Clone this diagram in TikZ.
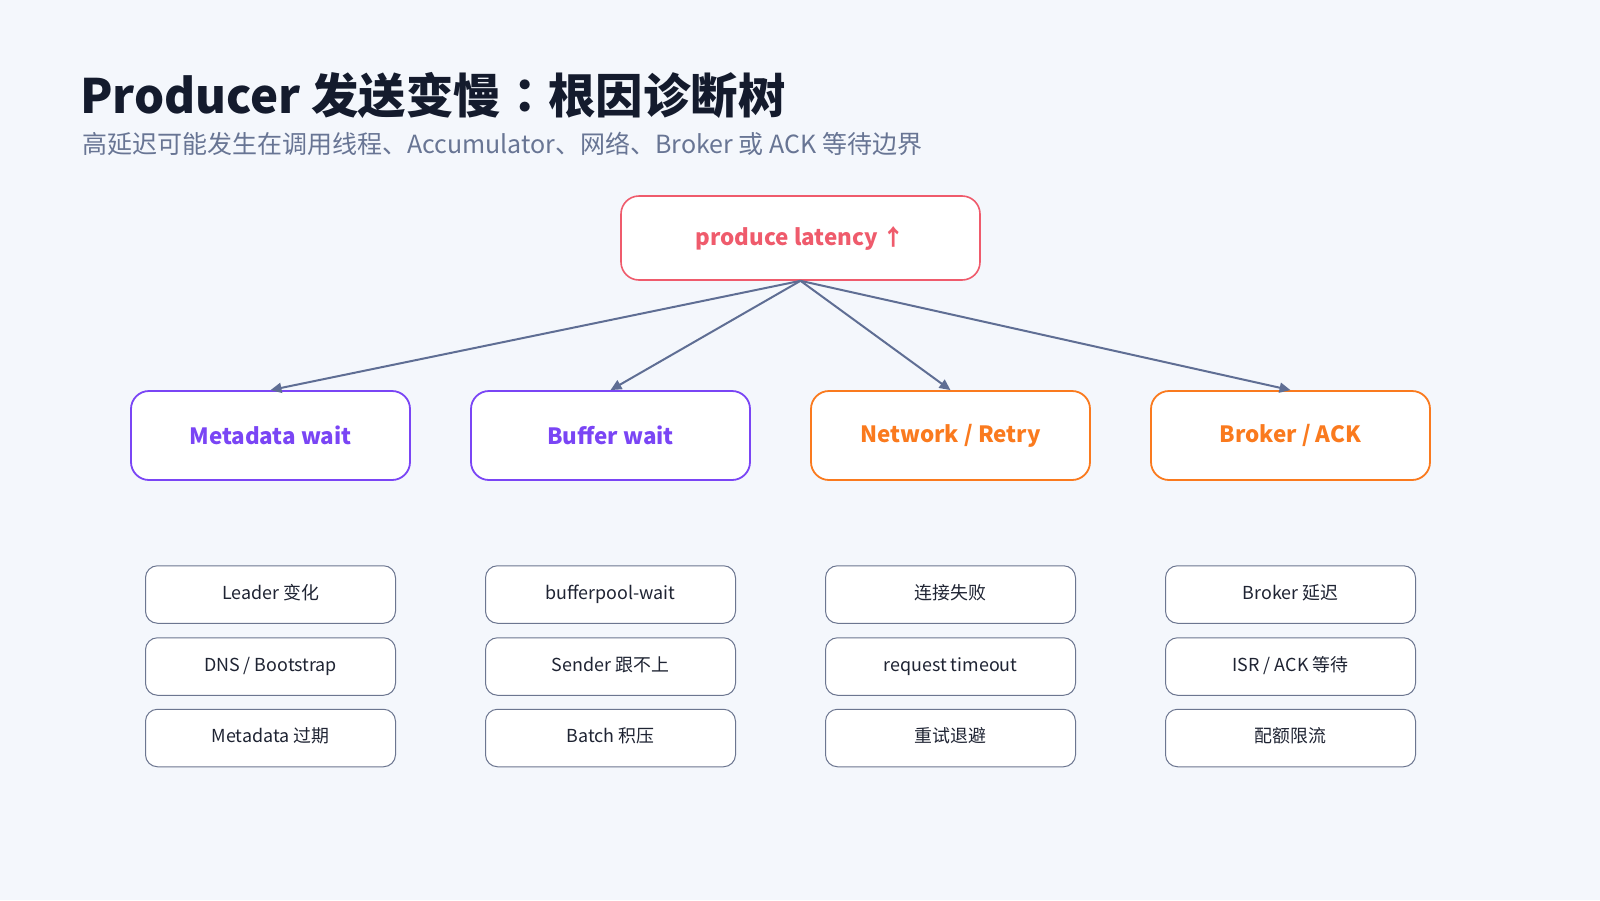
\documentclass[tikz,border=0pt]{standalone}
\usepackage{fontspec}
\setmainfont{Noto Sans CJK SC}
\newfontfamily\jpfont{Noto Sans CJK JP}
\usetikzlibrary{arrows.meta}
\definecolor{bg}{HTML}{F4F7FC}
\definecolor{titlec}{HTML}{141B2D}
\definecolor{subc}{HTML}{687594}
\definecolor{rootc}{HTML}{EF5B6C}
\definecolor{purc}{HTML}{7A45F5}
\definecolor{orc}{HTML}{FA7A1E}
\definecolor{arrc}{HTML}{5F6E94}
\definecolor{leafb}{HTML}{6C7690}
\definecolor{leaft}{HTML}{1F2433}
\tikzset{
  rootbox/.style={draw=rootc, line width=1.6pt, fill=white, rounded corners=18pt,
    minimum width=359pt, minimum height=84pt, inner sep=0pt, text=rootc,
    font=\fontsize{22.4}{27}\selectfont\bfseries},
  midbox/.style={line width=1.8pt, fill=white, rounded corners=18pt,
    minimum width=279pt, minimum height=89pt, inner sep=0pt,
    font=\fontsize{22.4}{27}\selectfont\bfseries},
  purbox/.style={midbox, draw=purc, text=purc},
  orbox/.style={midbox, draw=orc, text=orc},
  leafbox/.style={draw=leafb, line width=1pt, fill=white, rounded corners=12pt,
    minimum width=250pt, minimum height=57.5pt, inner sep=0pt, text=leaft,
    text height=11pt, text depth=1.5pt,
    font=\fontsize{17.9}{22}\selectfont},
  conn/.style={draw=arrc, line width=2pt, -{Triangle[length=11pt,width=10pt]}}
}
\begin{document}
\begin{tikzpicture}[x=1pt,y=-1pt]
\fill[bg] (0,0) rectangle (1600,900);
\useasboundingbox (0,0) rectangle (1600,900);
\node[anchor=base west, text=titlec, inner sep=0pt, font=\fontsize{47.4}{56}\selectfont\bfseries] (title) at (80,113) {Producer 发送变慢{\jpfont ：}根因诊断树};
\node[anchor=base west, text=subc, inner sep=0pt, font=\fontsize{25}{29}\selectfont] (sub) at (82,153) {高延迟可能发生在调用线程、Accumulator、网络、Broker 或 ACK 等待边界};
\node[rootbox] (root) at (800.5,238) {produce latency ↑};
\node[purbox] (m1) at (270.5,435.5) {Metadata wait};
\node[purbox] (m2) at (610.5,435.5) {Buffer wait};
\node[orbox] (m3) at (950.5,435.5) {Network / Retry};
\node[orbox] (m4) at (1290.5,435.5) {Broker / ACK};
\foreach \i in {1,2,3,4}{
  \draw[conn] (root.south) -- (m\i.north);
}
\foreach \c/\x/\a/\b/\d in {1/270.5/{Leader 变化}/{DNS / Bootstrap}/{Metadata 过期},
                           2/610.5/{bufferpool-wait}/{Sender 跟不上}/{Batch 积压},
                           3/950.5/{连接失败}/{request timeout}/{重试退避},
                           4/1290.5/{Broker 延迟}/{ISR / ACK 等待}/{配额限流}}{
  \node[leafbox] (l\c a) at (\x,594.5) {\a};
  \node[leafbox] (l\c b) at (\x,666.5) {\b};
  \node[leafbox] (l\c c) at (\x,738) {\d};
}
\end{tikzpicture}
\end{document}
